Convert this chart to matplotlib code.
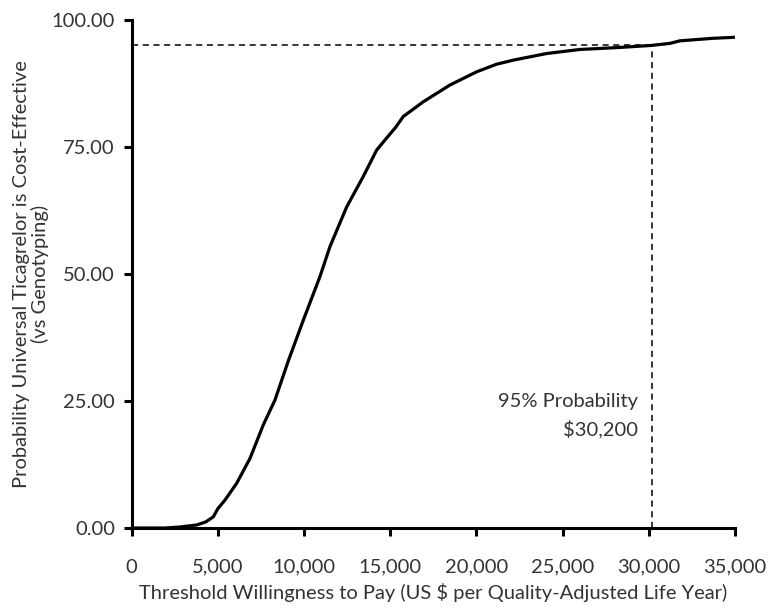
import matplotlib
matplotlib.use("Agg")
import matplotlib.pyplot as plt

# values
wtp = [0, 1000, 1937, 2800, 3775, 4300, 4738, 5000, 5417, 6094, 6866, 7638,
       8316, 9100, 9958, 10926, 11506, 12474, 13438, 14214, 14800, 15300,
       15757, 16917, 18465, 20013, 21173, 22137, 24073, 26005, 28324, 30162,
       31224, 31804, 33735, 34994]
prob = [0, 0, 0, 0.2, 0.6, 1.2, 2.2, 3.8, 5.5, 8.8, 13.7, 20.3,
        25.2, 33.0, 40.9, 49.5, 55.4, 63.2, 69.2, 74.4, 76.8, 78.8,
        81.0, 83.9, 87.2, 89.8, 91.3, 92.1, 93.4, 94.2, 94.6, 95.0,
        95.4, 95.9, 96.4, 96.6]

threshold_x = 30200
threshold_y = 95
x_ticks = [0, 5000, 10000, 15000, 20000, 25000, 30000, 35000]
y_ticks = [0, 25, 50, 75, 100]

plt.rcParams["font.family"] = ["Lato", "DejaVu Sans"]
text_color = "#333333"
fs = 14.5

fig = plt.figure(figsize=(7.71, 6.10), dpi=100)
ax = fig.add_axes([0.1707, 0.1344, 0.7826, 0.8328])

ax.plot(wtp, prob, color="black", linewidth=2.3, solid_joinstyle="round")
ax.plot([0, threshold_x], [threshold_y, threshold_y], color="black",
        linewidth=1.1, linestyle=(0, (4, 3)))
ax.plot([threshold_x, threshold_x], [0, threshold_y], color="black",
        linewidth=1.1, linestyle=(0, (4, 3)))

ax.text(29350, 25.0, "95% Probability", ha="right", va="center",
        fontsize=fs, color=text_color)
ax.text(29350, 19.4, "$30,200", ha="right", va="center",
        fontsize=fs, color=text_color)

ax.set_xlim(0, 35000)
ax.set_ylim(0, 100)
ax.set_xticks(x_ticks)
ax.set_xticklabels([f"{v:,}" for v in x_ticks])
ax.set_yticks(y_ticks)
ax.set_yticklabels([f"{v:.2f}" for v in y_ticks])

for side in ["top", "right"]:
    ax.spines[side].set_visible(False)
for side in ["left", "bottom"]:
    ax.spines[side].set_linewidth(2.2)

ax.tick_params(axis="both", direction="out", length=6, width=2.2,
               labelsize=fs, labelcolor=text_color)
ax.tick_params(axis="x", pad=16)
ax.tick_params(axis="y", pad=6)

ax.set_xlabel("Threshold Willingness to Pay (US $ per Quality-Adjusted Life Year)",
              fontsize=fs, color=text_color, labelpad=5)
ax.set_ylabel("Probability Universal Ticagrelor is Cost-Effective\n(vs Genotyping)",
              fontsize=fs, color=text_color, labelpad=2, linespacing=1.05)

fig.savefig("out.png", dpi=100)
